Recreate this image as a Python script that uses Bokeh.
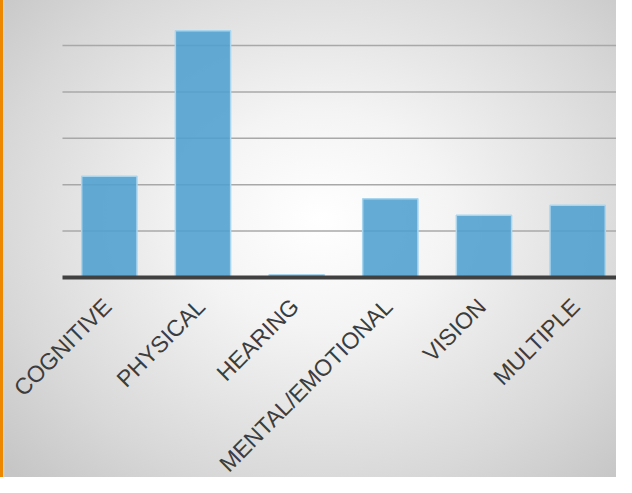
import math
from bokeh.plotting import figure
from bokeh.models import Range1d, ColumnDataSource, LabelSet
from bokeh.core.properties import value
from bokeh.embed import file_html
from bokeh.resources import INLINE

categories = ["COGNITIVE", "PHYSICAL", "HEARING", "MENTAL/EMOTIONAL", "VISION", "MULTIPLE"]
values = [10.9, 26.6, 0.3, 8.5, 6.7, 7.8]
grid_ticks = [0, 5, 10, 15, 20, 25]

n = len(categories)
xs = [i + 0.5 for i in range(n)]
src = ColumnDataSource(dict(x=xs, top=values, cat=categories, base=[0] * n))

x_end = 5.915
p = figure(width=616, height=477, output_backend="svg", toolbar_location=None,
           x_range=Range1d(-0.662, x_end), y_range=Range1d(-21.55, 29.85),
           min_border_left=0, min_border_right=0, min_border_top=0, min_border_bottom=0)

p.styles = {"background": "linear-gradient(to right, #EE8700 0px, #EE8700 3px, #d8d8d8 3px, transparent 5px), "
                          "radial-gradient(ellipse 70% 75% at 52% 46%, #ffffff 0%, #f4f4f4 30%, #d8d8d8 75%, #c6c6c6 100%)"}
p.background_fill_alpha = 0
p.border_fill_alpha = 0
p.outline_line_color = None
p.xaxis.visible = False
p.yaxis.visible = False
p.grid.visible = False

grid_src = ColumnDataSource(dict(y=grid_ticks[1:], x0=[0] * (len(grid_ticks) - 1), x1=[x_end] * (len(grid_ticks) - 1)))
p.segment(x0="x0", x1="x1", y0="y", y1="y", source=grid_src, line_color="#a8a8a8", line_width=1.5)

p.vbar(x="x", top="top", width=0.59, bottom=0, source=src,
       fill_color="#4f9fcf", fill_alpha=0.88, line_color="#a9d5ef", line_width=1.5)

p.segment(x0=[0], x1=[x_end], y0=[grid_ticks[0]], y1=[grid_ticks[0]], line_color="#404040", line_width=4)

labels = LabelSet(x="x", y="base", text="cat", source=src, angle=math.pi / 4,
                  text_align="right", text_baseline="middle",
                  x_offset=-2, y_offset=-25,
                  text_font=value("Liberation Sans"), text_font_size="23px", text_color="#3c3c3c")
p.add_layout(labels)

open("out.html", "w").write(file_html(p, INLINE))
